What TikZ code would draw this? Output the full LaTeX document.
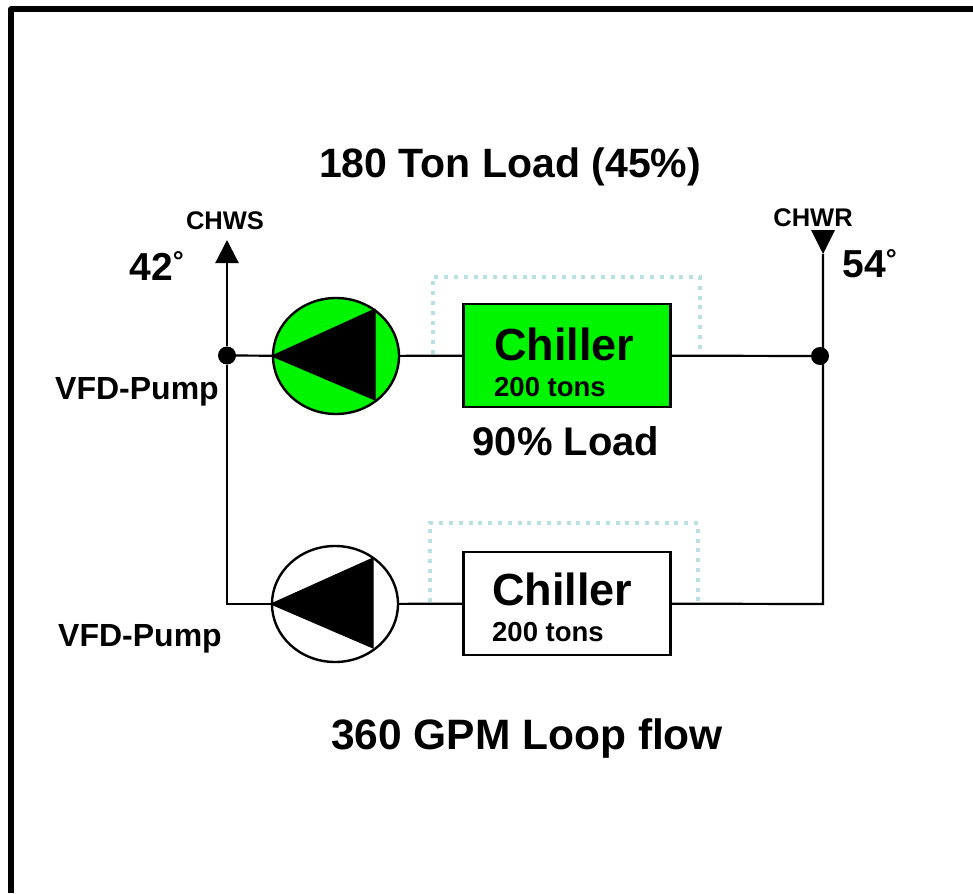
\documentclass[tikz,border=0pt]{standalone}
\usepackage{fontspec}
\setmainfont{Liberation Sans}
\usetikzlibrary{arrows.meta,shapes.geometric}
\definecolor{chillergreen}{RGB}{0,245,0}
\definecolor{bypassteal}{RGB}{185,225,225}
\tikzset{
  pipe/.style={line width=2.2pt,draw=black},
  bypass/.style={line width=4pt,draw=bypassteal,dash pattern=on 4pt off 5.8pt},
  chillerbox/.style={draw=black,line width=2.4pt,minimum width=207pt,minimum height=103pt},
  pumpcircle/.style={ellipse,draw=black,line width=2.4pt,minimum width=126pt,minimum height=116pt,inner sep=0pt},
  impeller/.style={fill=black,draw=black,line width=1pt,line join=round},
  junction/.style={circle,fill=black,minimum size=18pt,inner sep=0pt},
  bigtext/.style={font=\bfseries\fontsize{41}{41}\selectfont,inner sep=0pt},
  temptext/.style={font=\bfseries\fontsize{39}{39}\selectfont,inner sep=0pt},
  pumptext/.style={font=\bfseries\fontsize{32}{32}\selectfont,inner sep=0pt},
  tagtext/.style={font=\bfseries\fontsize{25.5}{25.5}\selectfont,inner sep=0pt},
  chillertext/.style={font=\bfseries\fontsize{45}{45}\selectfont,inner sep=0pt},
  sizetext/.style={font=\bfseries\fontsize{27.5}{27.5}\selectfont,inner sep=0pt}
}
\begin{document}
\begin{tikzpicture}[x=1pt,y=-1pt,>={Triangle[length=23pt,width=23pt]}]
  \useasboundingbox (0,0) rectangle (973,893);
  % outer frame
  \draw[line width=6pt,line join=round] (11,893) -- (11,9.5) -- (973,9.5);
  % dotted bypass lines
  \draw[bypass] (433,354) -- (433,277) -- (700,277) -- (700,354);
  \draw[bypass] (430,602) -- (430,523) -- (698,523) -- (698,602);
  % chillers and pumps
  \node[chillerbox,fill=chillergreen] (chillerA) at (567,355.5) {};
  \node[chillerbox] (chillerB) at (567,603.5) {};
  \node[pumpcircle,fill=chillergreen] (pumpA) at (336,356) {};
  \node[pumpcircle] (pumpB) at (335,604) {};
  \fill[impeller] (pumpA.west) -- (375,309) -- (375,400) -- cycle;
  \fill[impeller] (pumpB.west) -- (373,558) -- (373,648) -- cycle;
  % junctions and free ends
  \node[junction] (supplyJoint) at (227,355.5) {};
  \node[junction] (returnJoint) at (820,356) {};
  \coordinate (supplyEnd) at (227,240);
  \coordinate (returnEnd) at (823,254);
  \coordinate (supplyCorner) at (227,604);
  \coordinate (returnCorner) at (823,604);
  % piping
  \draw[pipe] (supplyJoint) -- (pumpA);
  \draw[pipe] (pumpA) -- (chillerA);
  \draw[pipe] (chillerA) -- (returnJoint);
  \draw[pipe] (supplyJoint) -- (supplyCorner) -- (pumpB);
  \draw[pipe] (pumpB) -- (chillerB);
  \draw[pipe] (chillerB) -- (returnCorner) -- (returnEnd);
  \draw[pipe,->] (supplyJoint) -- (supplyEnd);
  \fill[black] (811,230) -- (835,230) -- (823,254) -- cycle;
  % labels
  \node[bigtext] (title) at (510,167) {180 Ton Load (45\%)};
  \node[tagtext] (chws) at (225,221) {CHWS};
  \node[tagtext] (chwr) at (813,218) {CHWR};
  \node[temptext] (supplyTemp) at (157,266) {42\textsuperscript{°}};
  \node[temptext] (returnTemp) at (870,264) {54\textsuperscript{°}};
  \node[pumptext] (pumpLabelA) at (137,392) {VFD-Pump};
  \node[pumptext] (pumpLabelB) at (140,639) {VFD-Pump};
  \node[chillertext,anchor=west] (nameA) at (494,344) {Chiller};
  \node[sizetext,anchor=west] (sizeA) at (494,387) {200 tons};
  \node[chillertext,anchor=west] (nameB) at (492,589) {Chiller};
  \node[sizetext,anchor=west] (sizeB) at (492,632) {200 tons};
  \node[bigtext,font=\bfseries\fontsize{40}{40}\selectfont] (loadA) at (566,441) {90\% Load};
  \node[bigtext,font=\bfseries\fontsize{42.5}{42.5}\selectfont] (flow) at (527,739) {360 GPM Loop flow};
\end{tikzpicture}
\end{document}
